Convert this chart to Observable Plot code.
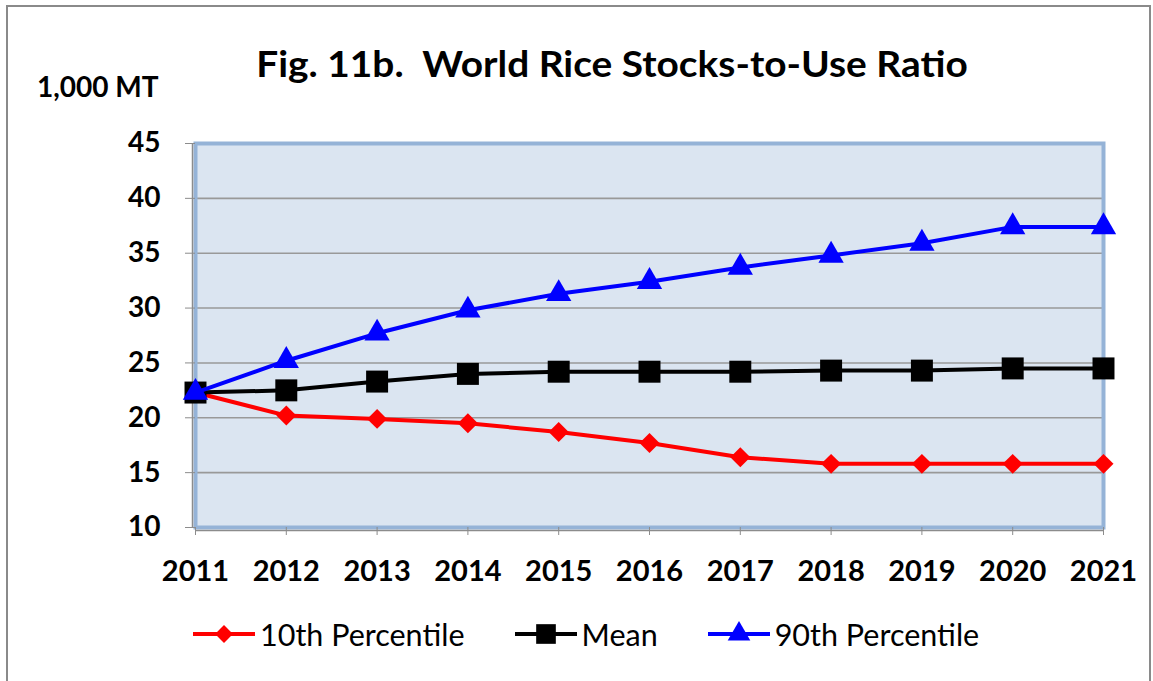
<!DOCTYPE html>
<html><head><meta charset="utf-8">
<script src="https://cdn.jsdelivr.net/npm/d3@7"></script>
<script src="https://cdn.jsdelivr.net/npm/@observablehq/plot@0.6"></script>
<style>
body{margin:0;background:#fff;}
#wrap{position:relative;width:1153px;height:681px;overflow:hidden;font-family:Lato,sans-serif;color:#000;background:#fff;}
#border{position:absolute;left:6px;top:5px;width:1145px;height:720px;border:2px solid #8a8a8a;box-sizing:border-box;}
#title{position:absolute;left:612px;top:44px;transform:translateX(-50%) scaleX(1.05);white-space:pre;font-size:37px;line-height:37px;font-weight:bold;}
#ylab{position:absolute;left:37px;top:72px;white-space:pre;font-size:28px;line-height:28px;font-weight:bold;}
#chart{position:absolute;left:0;top:100px;}
#legend{position:absolute;left:192px;top:619px;display:flex;align-items:center;font-size:30.5px;line-height:30px;}
.item{display:flex;align-items:center;margin-right:49px;}
.item svg{margin-right:4px;}
</style></head>
<body><div id="wrap">
<div id="border"></div>
<div id="title">Fig. 11b.  World Rice Stocks-to-Use Ratio</div>
<div id="ylab">1,000 MT</div>
<div id="chart"></div>
<div id="legend"></div>
</div>
<script>
const years = [2011, 2012, 2013, 2014, 2015, 2016, 2017, 2018, 2019, 2020, 2021];
const p10 = [22.3, 20.2, 19.9, 19.5, 18.7, 17.7, 16.4, 15.8, 15.8, 15.8, 15.8];
const mean = [22.3, 22.5, 23.3, 24.0, 24.2, 24.2, 24.2, 24.3, 24.3, 24.5, 24.5];
const p90 = [22.3, 25.2, 27.7, 29.8, 31.3, 32.4, 33.7, 34.8, 35.9, 37.4, 37.4];
const seriesNames = ["10th Percentile", "Mean", "90th Percentile"];
const yTicks = [10, 15, 20, 25, 30, 35, 40, 45];

const colors = ["#ff0000", "#000000", "#0000ff"];
const symbols = ["diamond2", "square", "triangle"];
const radii = [9, 12.4, 9.4];
const d3symbols = [d3.symbolDiamond2, d3.symbolSquare, d3.symbolTriangle];

const seriesValues = [p10, mean, p90];
const table = seriesValues.map((vals, s) => years.map((year, i) => ({year, value: vals[i], name: seriesNames[s]})));

const marks = [
  Plot.frame({fill: "#dbe5f1"}),
  Plot.gridY(yTicks.filter(t => t > 10 && t < 45), {stroke: "#999999", strokeOpacity: 1, strokeWidth: 1.6}),
  Plot.frame({stroke: "#95b3d7", strokeWidth: 4}),
  Plot.ruleX([2011], {stroke: "#8c8c8c", strokeWidth: 1.5, dx: -3}),
  Plot.ruleY([10], {stroke: "#8c8c8c", strokeWidth: 1.5, dy: 3}),
  Plot.axisY({ticks: yTicks, tickSize: 10, tickPadding: 25, fontSize: 28, fontWeight: "bold", stroke: "#8c8c8c", fill: "#000", label: null, tickFormat: d => String(d)}),
  Plot.axisX({ticks: years, tickSize: 8, tickPadding: 25, fontSize: 29, fontWeight: "bold", stroke: "#8c8c8c", fill: "#000", label: null, tickFormat: d => String(d)})
];
table.forEach((rows, s) => {
  marks.push(Plot.lineY(rows, {x: "year", y: "value", stroke: colors[s], strokeWidth: 4}));
  marks.push(Plot.dot(rows, {x: "year", y: "value", symbol: symbols[s], r: radii[s], fill: colors[s], stroke: "none"}));
});

const chart = Plot.plot({
  width: 1153,
  height: 510,
  marginLeft: 195,
  marginRight: 50,
  marginTop: 43,
  marginBottom: 83,
  style: {fontFamily: "Lato, sans-serif", background: "transparent", overflow: "visible"},
  x: {domain: [2011, 2021], label: null},
  y: {domain: [10, 45], label: null},
  marks
});
document.getElementById("chart").appendChild(chart);

const legend = document.getElementById("legend");
seriesNames.forEach((name, s) => {
  const item = document.createElement("div");
  item.className = "item";
  const size = Math.PI * radii[s] * radii[s] * 0.8;
  const path = d3.symbol(d3symbols[s], size)();
  item.innerHTML = `<svg width="64" height="28"><line x1="1" x2="63" y1="14" y2="14" stroke="${colors[s]}" stroke-width="4"/><path d="${path}" transform="translate(32,14)" fill="${colors[s]}"/></svg><span>${name}</span>`;
  legend.appendChild(item);
});
</script>
</body></html>
